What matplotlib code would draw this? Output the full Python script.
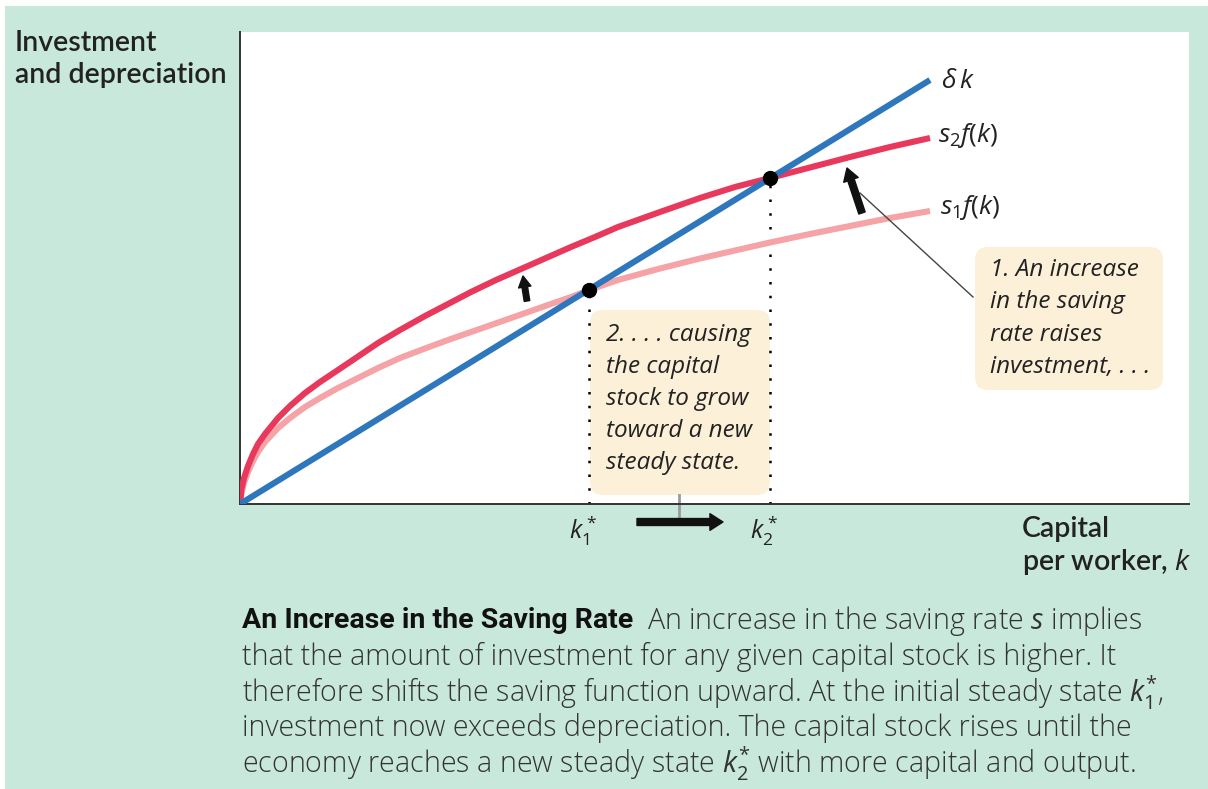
import matplotlib
matplotlib.use("Agg")
import matplotlib.pyplot as plt
from matplotlib.patches import Rectangle, FancyBboxPatch

# ---- data (arbitrary units) ----
k_red = [0, 0.15, 0.4, 0.8, 1.3, 1.8, 2.5, 3.8, 5.0, 6.5, 8.0, 9.8, 11.8, 13.8, 16.0, 18.5,
         20.8, 23.1, 25.6, 28.1, 30.6, 33.1, 35.5, 37.8, 42.0, 46.0, 49.5, 53.0, 57.0, 61.0, 65.0, 69.0]
s2f = [0, 1.5, 2.6, 3.8, 5.0, 6.0, 7.0, 8.6, 9.8, 11.1, 12.2, 13.4, 14.75, 16.1, 17.4, 18.8,
       20.0, 21.2, 22.4, 23.5, 24.6, 25.7, 26.7, 27.7, 29.2, 30.6, 31.7, 32.6, 33.65, 34.7, 35.7, 36.6]
k_pink = [0, 0.15, 0.4, 0.8, 1.3, 1.8, 2.5, 3.8, 5.0, 6.5, 8.0, 9.8, 11.8, 13.8, 16.0, 18.5,
          20.8, 23.1, 25.6, 28.1, 30.6, 33.1, 34.9, 37.8, 42.0, 46.0, 49.5, 53.0, 57.0, 61.0, 65.0, 69.0]
s1f = [0, 1.1, 2.1, 3.2, 4.3, 5.2, 6.2, 7.6, 8.6, 9.7, 10.6, 11.6, 12.6, 13.6, 14.6, 15.55,
       16.4, 17.2, 18.07, 18.95, 19.83, 20.7, 21.4, 22.4, 23.55, 24.55, 25.35, 26.15, 27.0, 27.8, 28.6, 29.3]
k_dep = [0, 69.0]
dep = [0, 42.4]
k_star = [34.9, 53.0]
y_star = [21.45, 32.6]

curve_labels = [r"$\delta\, k$", r"$s_2 f(k)$", r"$s_1 f(k)$"]
star_labels = [r"$k_1^*$", r"$k_2^*$"]

W, H = 1208, 789
plt.rcParams['mathtext.fontset'] = 'custom'
plt.rcParams['mathtext.it'] = 'Open Sans:italic'
plt.rcParams['mathtext.rm'] = 'Open Sans'
plt.rcParams['mathtext.bf'] = 'Open Sans:bold'

fig = plt.figure(figsize=(W / 100, H / 100), dpi=100)
fig.patch.set_facecolor('white')
MINT = '#c8e8db'
fig.patches.append(Rectangle((5 / W, 0), 1, 1 - 6 / H, transform=fig.transFigure,
                             facecolor=MINT, edgecolor='none', zorder=-10))

def fx(px):
    return px / W

def fy(py):
    return 1 - py / H

ax = fig.add_axes([fx(240), fy(504), 949 / W, 472 / H])
ax.set_facecolor('white')
ax.set_xlim(0, 94.9)
ax.set_ylim(0, 47.2)
for s in ['top', 'right']:
    ax.spines[s].set_visible(False)
for s in ['left', 'bottom']:
    ax.spines[s].set_color('#333333')
    ax.spines[s].set_linewidth(1.4)
ax.set_xticks([])
ax.set_yticks([])

BLUE = '#2f77bd'
RED = '#e8395d'
PINK = '#f5a3a6'
BEIGE = '#fdf0d9'
TXT = '#222222'

# annotation boxes
ax.add_patch(FancyBboxPatch((35.0, 0.9), 18.0, 18.5,
                            boxstyle='round,pad=0,rounding_size=1.3',
                            facecolor=BEIGE, edgecolor='none', zorder=1))
ax.add_patch(FancyBboxPatch((73.5, 11.4), 18.8, 14.3,
                            boxstyle='round,pad=0,rounding_size=1.3',
                            facecolor=BEIGE, edgecolor='none', zorder=1))

# curves
ax.plot(k_pink, s1f, color=PINK, lw=4.4, solid_capstyle='butt', solid_joinstyle='round', zorder=3)
ax.plot(k_red, s2f, color=RED, lw=4.4, solid_capstyle='butt', solid_joinstyle='round', zorder=4)
ax.plot(k_dep, dep, color=BLUE, lw=4.4, solid_capstyle='butt', zorder=5)

# steady-state dots and dotted drop lines
for kx, ky in zip(k_star, y_star):
    ax.plot([kx, kx], [0, ky], color='black', lw=1.8, ls=(0, (1, 4.5)), zorder=2)
ax.plot(k_star, y_star, 'o', color='black', ms=10, zorder=6)

# curve labels
ax.text(k_dep[-1] + 1.1, dep[-1] - 0.1, curve_labels[0], fontsize=19, color=TXT,
        va='center', ha='left')
ax.text(k_red[-1] + 0.8, s2f[-1] + 0.2, curve_labels[1], fontsize=19, color=TXT,
        va='center', ha='left')
ax.text(k_pink[-1] + 1.0, s1f[-1] + 0.3, curve_labels[2], fontsize=19, color=TXT,
        va='center', ha='left')

# k* labels below axis
for kx, lab in zip(k_star, star_labels):
    ax.text(kx - 0.6, -2.7, lab, fontsize=18, color=TXT, va='center', ha='center',
            clip_on=False)

# annotation texts
box2 = ["2. . . . causing", "the capital", "stock to grow", "toward a new", "steady state."]
for i, line in enumerate(box2):
    ax.text(36.6, 16.9 - i * 3.2, line, fontsize=17.5, style='italic', family='Open Sans',
            color=TXT, va='center', ha='left', zorder=7)
box1 = ["1. An increase", "in the saving", "rate raises", "investment, . . ."]
for i, line in enumerate(box1):
    ax.text(75.0, 23.4 - i * 3.23, line, fontsize=17.5, style='italic', family='Open Sans',
            color=TXT, va='center', ha='left', zorder=7)

# leader line and arrows
ax.plot([73.3, 62.0], [20.7, 31.1], color='#444444', lw=1.0, zorder=6)
ax.annotate('', xy=(60.7, 33.6), xytext=(62.2, 29.1),
            arrowprops=dict(arrowstyle='simple,head_length=0.45,head_width=0.55,tail_width=0.24',
                            fc='#111111', ec='#111111', shrinkA=0, shrinkB=0,
                            mutation_scale=20), zorder=7)
ax.annotate('', xy=(28.3, 22.8), xytext=(28.7, 20.3),
            arrowprops=dict(arrowstyle='simple,head_length=0.4,head_width=0.45,tail_width=0.2',
                            fc='#111111', ec='#111111', shrinkA=0, shrinkB=0,
                            mutation_scale=20), zorder=7)
ax.plot([43.9, 43.9], [0.9, -1.6], color='#9a9a9a', lw=2.0, clip_on=False, zorder=1)
ax.annotate('', xy=(48.3, -1.8), xytext=(39.7, -1.8), annotation_clip=False,
            arrowprops=dict(arrowstyle='simple,head_length=0.47,head_width=0.6,tail_width=0.25',
                            fc='#111111', ec='#111111', shrinkA=0, shrinkB=0,
                            mutation_scale=20), zorder=7)

# axis titles
AX_FONT = dict(fontsize=20.5, family='Lato', weight='semibold', color=TXT, va='center', ha='left')
fig.text(fx(15), fy(43), "Investment", **AX_FONT)
fig.text(fx(15), fy(75), "and depreciation", **AX_FONT)
fig.text(fx(1022), fy(529), "Capital", **AX_FONT)
fig.text(fx(1022), fy(562), r"per worker, $k$", **AX_FONT)

# caption
cap_bold = "An Increase in the Saving Rate"
cap_lines = [
    r"An increase in the saving rate $s$ implies",
    "that the amount of investment for any given capital stock is higher. It",
    r"therefore shifts the saving function upward. At the initial steady state $k_1^{*}$,",
    "investment now exceeds depreciation. The capital stock rises until the",
    r"economy reaches a new steady state $k_2^{*}$ with more capital and output.",
]
CAP_FONT = dict(fontsize=20.6, family='Open Sans', weight='light', color='#333333',
                va='center', ha='left')
tb = fig.text(fx(242), fy(621), cap_bold, fontsize=20.5,
              family=['Liberation Sans Narrow', 'Roboto'], weight='bold',
              color='#111111', va='center', ha='left')
renderer = fig.canvas.get_renderer()
bb = tb.get_window_extent(renderer=renderer)
fig.text((bb.x1 + 14) / W, fy(621), cap_lines[0], **CAP_FONT)
for i, line in enumerate(cap_lines[1:]):
    fig.text(fx(242), fy(657 + i * 35.5), line, **CAP_FONT)

fig.savefig('out.png', dpi=100)
